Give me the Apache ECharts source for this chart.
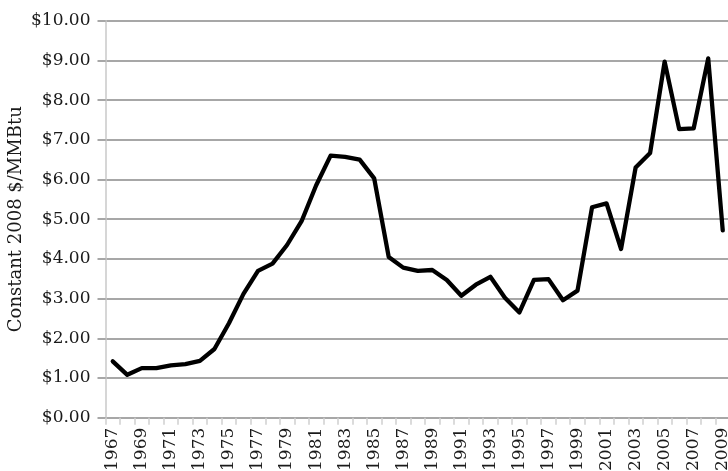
<!DOCTYPE html>
<html>
<head>
<meta charset="utf-8">
<script src="https://cdn.jsdelivr.net/npm/echarts@6/dist/echarts.min.js"></script>
<style>html,body{margin:0;padding:0;background:#fff}#c{width:728px;height:471px}</style>
</head>
<body>
<div id="c"></div>
<script>
var years = ['1967','1968','1969','1970','1971','1972','1973','1974','1975','1976','1977','1978','1979','1980','1981','1982','1983','1984','1985','1986','1987','1988','1989','1990','1991','1992','1993','1994','1995','1996','1997','1998','1999','2000','2001','2002','2003','2004','2005','2006','2007','2008','2009'];
var prices = [1.42,1.08,1.25,1.25,1.32,1.35,1.43,1.73,2.38,3.12,3.70,3.88,4.35,4.95,5.85,6.60,6.57,6.50,6.03,4.05,3.78,3.70,3.72,3.47,3.07,3.35,3.55,3.02,2.65,3.47,3.49,2.96,3.20,5.30,5.40,4.25,6.30,6.67,8.97,7.27,7.29,9.05,4.72];
var yTitle = 'Constant 2008 $/MMBtu';
var FONT = 'DejaVu Serif';
var chart = echarts.init(document.getElementById('c'), null, {renderer:'canvas'});
chart.setOption({
  animation:false,
  backgroundColor:'#fff',
  grid:{left:105.5, top:20.7, right:-2, bottom:53.3, containLabel:false, outerBoundsMode:'none'},
  xAxis:{
    type:'category', data:years, boundaryGap:true,
    axisLine:{show:false},
    axisTick:{show:true, alignWithLabel:false, interval:0, length:7, lineStyle:{color:'#d0d0d0', width:1.5}},
    axisLabel:{interval:1, rotate:90, margin:10, fontFamily:FONT, fontSize:17, color:'#1a1a1a', hideOverlap:false},
    splitLine:{show:false}
  },
  yAxis:{
    type:'value', min:0, max:10, interval:1,
    name:yTitle, nameLocation:'middle', nameGap:80, nameRotate:90, nameMoveOverlap:false,
    nameTextStyle:{fontFamily:FONT, fontSize:18, color:'#1a1a1a'},
    axisLine:{show:true, lineStyle:{color:'#c8c8c8', width:1.5}},
    axisTick:{show:true, length:8, inside:false, lineStyle:{color:'#8a8a8a', width:1.5}},
    axisLabel:{margin:15, fontFamily:FONT, fontSize:17, color:'#1a1a1a',
      formatter:function(v){return '$'+v.toFixed(2);}},
    splitLine:{show:true, lineStyle:{color:'#8a8a8a', width:1.5}}
  },
  series:[{
    type:'line', data:prices, symbol:'none', smooth:false,
    lineStyle:{color:'#000', width:4.3, join:'round', cap:'round'}
  }]
});
</script>
</body>
</html>
